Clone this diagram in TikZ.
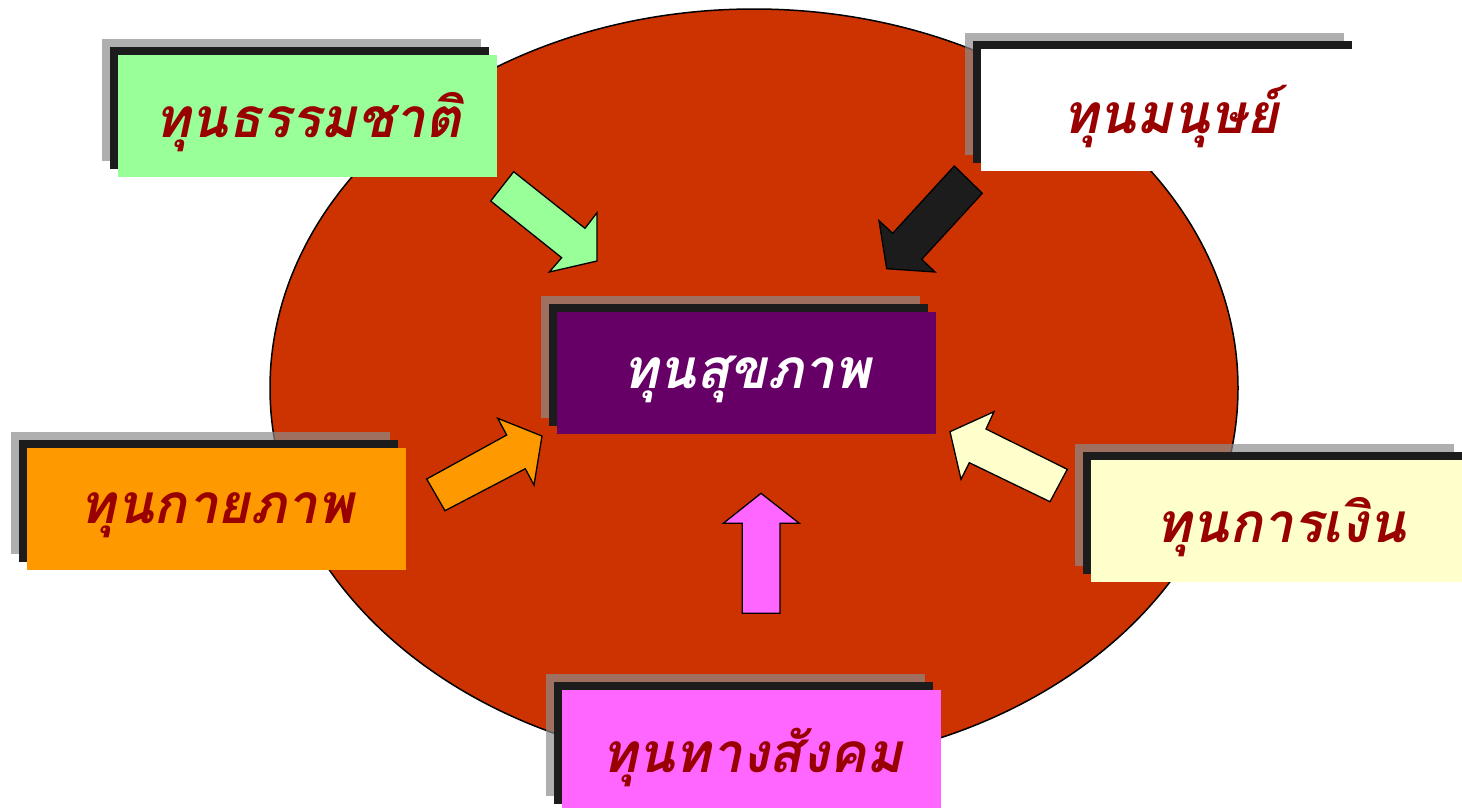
\documentclass[tikz,border=0pt]{standalone}
\usepackage{fontspec}
\usetikzlibrary{shapes.geometric}
\newfontfamily\thaifont[Script=Thai]{Loma}
\definecolor{ellred}{HTML}{CC3300}
\definecolor{shgray}{RGB}{140,140,140}
\definecolor{shdark}{HTML}{1C1C1C}
\definecolor{boxgreen}{HTML}{99FF99}
\definecolor{boxpurple}{HTML}{660066}
\definecolor{boxorange}{HTML}{FF9900}
\definecolor{boxyellow}{HTML}{FFFFCC}
\definecolor{boxpink}{HTML}{FF66FF}
\definecolor{txtred}{HTML}{990000}
\tikzset{
  capnode/.style={rectangle, inner sep=0pt, minimum width=379pt, minimum height=122pt,
    font=\thaifont\bfseries\itshape\fontsize{55}{66}\selectfont},
  blockarrow/.style={draw=black, line width=1.3pt, line join=miter},
}
\newcommand\capbox[6]{%
  \fill[shgray, fill opacity=0.69] (#2-16,#3-16) rectangle ++(379,122);
  \fill[shdark] (#2-8,#3-8) rectangle ++(379,122);
  \node[capnode, fill=#4, text=#5, anchor=north west] (#1) at (#2,#3) {\raisebox{-6pt}[\height][\depth]{#6}};
}
\begin{document}
\begin{tikzpicture}[x=1pt,y=-1pt]
\clip (0,0) rectangle (1462,807);
\fill[white] (0,0) rectangle (1462,807);
% big ellipse
\node[ellipse, draw=black, line width=1.5pt, fill=ellred, minimum width=968pt, minimum height=758pt, inner sep=0pt] (ell) at (754,388) {};
% block arrows
\draw[blockarrow, fill=boxgreen] (513.7,171.7) -- (490.7,201) -- (561.7,257.7) -- (549.3,272) -- (597,261) -- (597,212.7) -- (585,228.3) -- cycle;
\draw[blockarrow, fill=shdark] (954.3,166) -- (982.3,193.3) -- (921.7,259.3) -- (935,272) -- (886.7,268.7) -- (879,220.7) -- (892.7,233.3) -- cycle;
\draw[blockarrow, fill=boxorange] (445,510.7) -- (426.7,479) -- (506.7,435) -- (497.7,418.3) -- (542,436) -- (534,485) -- (525.3,468.7) -- cycle;
\draw[blockarrow, fill=boxyellow] (1067.3,469.3) -- (1050,501.7) -- (969.3,462.7) -- (961,479.3) -- (950,431.7) -- (994,411.7) -- (986,429) -- cycle;
\draw[blockarrow, fill=boxpink] (742.3,613.3) -- (780,613.3) -- (780,523.3) -- (799.3,523.3) -- (761,493.3) -- (723.3,523.3) -- (742.3,523.3) -- cycle;
% boxes
\capbox{nat}{118}{55}{boxgreen}{txtred}{ทุนธรรมชาติ}
\capbox{hum}{981}{49}{white}{txtred}{ทุนมนุษย์}
\capbox{hea}{557}{312}{boxpurple}{white}{ทุนสุขภาพ}
\capbox{phy}{27}{448}{boxorange}{txtred}{ทุนกายภาพ}
\capbox{fin}{1091}{460}{boxyellow}{txtred}{ทุนการเงิน}
\capbox{soc}{562}{690}{boxpink}{txtred}{ทุนทางสังคม}
\end{tikzpicture}
\end{document}
